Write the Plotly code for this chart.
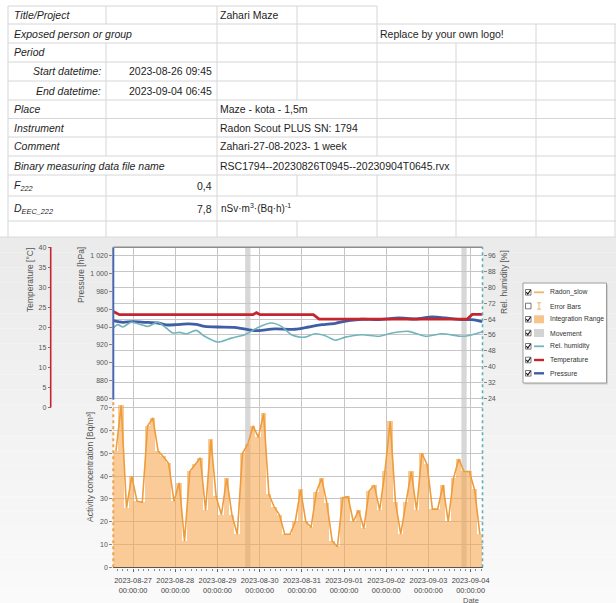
import pandas as pd
import plotly.graph_objects as go

W, H = 616, 603

# ---------------- measurement series ----------------
radon_start = "2023-08-26 12:45"      # start of the first 3 h integration interval
radon_step_hours = 3
radon_bq = [51, 71, 26, 40, 29, 28.5, 62, 65.5, 51, 48.5,
            45.5, 29, 37, 11.5, 42, 45, 48, 25, 56, 31,
            23, 39, 23, 14.5, 50, 54, 62, 57, 67.5, 32,
            26.5, 23, 14.5, 14.5, 20, 34, 20, 17.5, 33, 39,
            28, 11.5, 9, 30.5, 31, 20, 25, 17, 33.5, 36,
            25, 42, 64, 28.5, 14.5, 28.5, 42, 25, 50, 45,
            25.5, 25.5, 36, 20, 39, 47.5, 42, 42, 34, 14.5]

movement_from = ["2023-08-29 15:45", "2023-09-03 18:45"]
movement_to = ["2023-08-29 18:45", "2023-09-03 21:45"]

pressure_time = ["2023-08-26 12:45", "2023-08-26 18:08", "2023-08-26 23:50", "2023-08-27 06:30",
                 "2023-08-27 14:05", "2023-08-27 18:48", "2023-08-28 00:30", "2023-08-28 07:11",
                 "2023-08-28 11:55", "2023-08-28 16:42", "2023-08-29 00:17", "2023-08-29 09:48",
                 "2023-08-29 17:23", "2023-08-29 21:13", "2023-08-30 08:36", "2023-08-30 20:11",
                 "2023-08-31 03:46", "2023-08-31 11:24", "2023-08-31 19:00", "2023-09-01 02:35",
                 "2023-09-01 10:13", "2023-09-01 19:41", "2023-09-02 07:04", "2023-09-02 16:35",
                 "2023-09-03 02:07", "2023-09-03 09:42", "2023-09-03 19:13", "2023-09-04 00:55",
                 "2023-09-04 06:45"]
pressure_hpa = [947.1, 945.3, 946.0, 945.3,
                944.5, 942.3, 942.6, 943.4,
                943.0, 940.8, 940.0, 939.7,
                937.0, 935.9, 937.8, 937.5,
                940.0, 942.6, 944.2, 947.1,
                948.7, 948.2, 950.1, 949.0,
                951.2, 950.1, 948.2, 948.2,
                946.0]

humidity_time = ["2023-08-26 12:45", "2023-08-26 15:17", "2023-08-26 18:08", "2023-08-26 22:52",
                 "2023-08-27 04:34", "2023-08-27 08:23", "2023-08-27 14:05", "2023-08-27 18:48",
                 "2023-08-27 22:38", "2023-08-28 02:27", "2023-08-28 06:13", "2023-08-28 11:55",
                 "2023-08-28 16:42", "2023-08-29 00:17", "2023-08-29 07:52", "2023-08-29 15:30",
                 "2023-08-29 23:05", "2023-08-30 06:40", "2023-08-30 12:22", "2023-08-30 18:04",
                 "2023-08-30 22:52", "2023-08-31 01:53", "2023-08-31 07:35", "2023-08-31 13:17",
                 "2023-08-31 19:00", "2023-09-01 00:42", "2023-09-01 10:13", "2023-09-01 19:41",
                 "2023-09-02 03:18", "2023-09-02 12:46", "2023-09-02 22:18", "2023-09-03 07:49",
                 "2023-09-03 19:13", "2023-09-04 00:55", "2023-09-04 06:45"]
humidity_pct = [59.5, 61.2, 60.0, 62.4,
                61.2, 60.3, 62.4, 59.5,
                57.0, 57.3, 56.5, 58.3,
                55.3, 52.4, 54.4, 56.1,
                59.8, 62.0, 60.3, 56.1,
                54.9, 54.9, 56.6, 55.6,
                53.3, 54.9, 56.1, 55.3,
                57.0, 57.8, 55.3, 56.6,
                55.3, 56.1, 57.6]

temperature_time = ["2023-08-26 12:45", "2023-08-26 16:15", "2023-08-29 20:15", "2023-08-29 22:10",
                    "2023-08-30 00:15", "2023-08-31 06:35", "2023-08-31 09:50", "2023-09-03 22:05",
                    "2023-09-04 00:55", "2023-09-04 06:45"]
temperature_c = [24.0, 23.2, 23.2, 23.7,
                 23.2, 23.2, 22.1, 22.1,
                 23.25, 23.25]

# ---------------- axis ticks ----------------
date_ticks = pd.date_range("2023-08-27", "2023-09-04", freq="D")
activity_ticks = list(range(0, 71, 10))
pressure_ticks = list(range(860, 1021, 20))
humidity_ticks = list(range(24, 97, 8))
temperature_ticks = list(range(0, 41, 5))

# ---------------- report header text ----------------
title_project = "Zahari Maze"
logo_note = "Replace by your own logo!"
start_dt = "2023-08-26 09:45"
end_dt = "2023-09-04 06:45"
place = "Maze - kota - 1,5m"
instrument = "Radon Scout PLUS SN: 1794"
comment = "Zahari-27-08-2023- 1 week"
data_file = "RSC1794--20230826T0945--20230904T0645.rvx"
f222 = "0,4"
deec222 = "7,8"
deec_unit = "nSv·m<sup>3</sup>·(Bq·h)<sup>-1</sup>"

legend_names = ["Radon_slow", "Error Bars", "Integration Range", "Movement",
                "Rel. humidity", "Temperature", "Pressure"]
legend_checked = [True, False, True, True, True, True, True]

# ---------------- colours / fonts ----------------
C_RADON = "#ee9c3c"
C_BAR = "rgba(246,166,74,0.58)"
C_HUM = "#74b5bb"
C_PRESS = "#3f5ea6"
C_TEMP = "#c4262e"
C_GRID = "#c6c6c6"
FAMILY = "Liberation Sans, Arial, sans-serif"


def px(x):
    return x / W


def py(y):
    return 1 - y / H


# plot area in pixels
PL, PR, PT, PB = 113.3, 482.5, 247.3, 567.3
act_range = [0, (PB - PT) / 2.28]
press_range = [860 - (PB - 398.3) / 0.89125, 1020 + (255.7 - PT) / 0.89125]
hum_range = [24 - (PB - 398.3) / 1.98125, 96 + (255.7 - PT) / 1.98125]
temp_range = [-(PB - 407.3) / 4.0, 40.05]


def vpix(v, rng):
    return PB - (v - rng[0]) / (rng[1] - rng[0]) * (PB - PT)


interval = pd.Timedelta(hours=radon_step_hours)
bar_mid = pd.date_range(radon_start, periods=len(radon_bq), freq=f"{radon_step_hours}h") + interval / 2
x_range = [pd.Timestamp(radon_start), pd.Timestamp(radon_start) + interval * len(radon_bq)]

fig = go.Figure()
fig.add_trace(go.Bar(x=bar_mid, y=radon_bq, width=interval.total_seconds() * 1000,
                     marker=dict(color=C_BAR, line=dict(width=0)), name="Integration Range"))
fig.add_trace(go.Scatter(x=bar_mid, y=radon_bq, mode="lines", name="Radon_slow",
                         line=dict(color=C_RADON, width=1.6)))
fig.add_trace(go.Scatter(x=humidity_time, y=humidity_pct, mode="lines", name="Rel. humidity", yaxis="y3",
                         line=dict(color=C_HUM, width=1.6, shape="spline", smoothing=0.7)))
fig.add_trace(go.Scatter(x=pressure_time, y=pressure_hpa, mode="lines", name="Pressure", yaxis="y2",
                         line=dict(color=C_PRESS, width=2.8, shape="spline", smoothing=0.6)))
fig.add_trace(go.Scatter(x=temperature_time, y=temperature_c, mode="lines", name="Temperature", yaxis="y4",
                         line=dict(color=C_TEMP, width=2.8)))

shapes = []
annots = []


def hline(y, x0, x1, color, width=1, dash=None, layer="below"):
    shapes.append(dict(type="line", xref="paper", yref="paper", x0=px(x0), x1=px(x1), y0=py(y), y1=py(y),
                       line=dict(color=color, width=width, dash=dash), layer=layer))


def vline(x, y0, y1, color, width=1, dash=None, layer="below"):
    shapes.append(dict(type="line", xref="paper", yref="paper", x0=px(x), x1=px(x), y0=py(y0), y1=py(y1),
                       line=dict(color=color, width=width, dash=dash), layer=layer))


def rect(x0, y0, x1, y1, fill, line_color=None, lw=0, layer="below"):
    shapes.append(dict(type="rect", xref="paper", yref="paper", x0=px(x0), x1=px(x1), y0=py(y0), y1=py(y1),
                       fillcolor=fill, line=dict(color=line_color or fill, width=lw), layer=layer))


def text(s, x, y, anchor="left", size=10.5, color="#1e1e1e", angle=0):
    annots.append(dict(text=s, xref="paper", yref="paper", x=px(x), y=py(y), xanchor=anchor,
                       yanchor="middle", showarrow=False, textangle=angle,
                       font=dict(family=FAMILY, size=size, color=color)))


# ---------------- spreadsheet header ----------------
G = "#d6d6d6"
row_edges = [6, 24, 43, 62, 81, 100, 118.5, 137, 156, 175, 196, 221, 237]
col_edges = [8, 106, 217, 297, 377, 456, 536, 615]
hline(row_edges[0], 8, 377, G)
for ye in row_edges[1:-1]:
    hline(ye, 8, 616, G)
# vertical cell borders that are not covered by overflowing text
hidden = {0: {456, 536, 615}, 1: {106, 456}, 5: {297}, 6: {297}, 7: {297},
          8: {106, 297, 377}, 10: {297}}
for r in range(len(row_edges) - 1):
    for c in col_edges:
        if c in hidden.get(r, set()):
            continue
        vline(c, row_edges[r], row_edges[r + 1], G)

text("<i>Title/Project</i>", 12, 15)
text(title_project, 218, 15)
text("<i>Exposed person or group</i>", 12, 33.5)
text(logo_note, 378, 33.5)
text("<i>Period</i>", 12, 52.5)
text("<i>Start datetime:</i>", 103, 71.5, anchor="right")
text(start_dt, 214, 71.5, anchor="right")
text("<i>End datetime:</i>", 103, 90.5, anchor="right")
text(end_dt, 214, 90.5, anchor="right")
text("<i>Place</i>", 12, 109)
text(place, 218, 109)
text("<i>Instrument</i>", 12, 128)
text(instrument, 218, 128)
text("<i>Comment</i>", 12, 146.5)
text(comment, 218, 146.5)
text("<i>Binary measuring data file name</i>", 12, 165.5)
text(data_file, 218, 165.5)
text("<i>F</i><sub><i>222</i></sub>", 12, 185.5)
text(f222, 214, 185.5, anchor="right")
text("<i>D</i><sub><i>EEC_222</i></sub>", 12, 209)
text(deec222, 214, 209, anchor="right")
text(deec_unit, 219, 208, size=10)

# ---------------- chart panel background ----------------
n_strips = 24
top_bg = 237
for i in range(n_strips):
    y0 = top_bg + i * (H - top_bg) / n_strips
    y1 = top_bg + (i + 1) * (H - top_bg) / n_strips
    g = int(235 + (250 - 235) * i / (n_strips - 1))
    rect(0, y0, W, y1, f"rgb({g},{g},{g})")
hline(top_bg, 0, W, "#dadada")
rect(PL, PT, PR, PB, "white")

# movement periods
for a, b in zip(movement_from, movement_to):
    shapes.append(dict(type="rect", xref="x", yref="paper", x0=a, x1=b, y0=py(PB), y1=py(PT),
                       fillcolor="rgba(150,150,150,0.38)", line=dict(width=0), layer="between"))

# axis lines drawn only over their own value span
vline(50.7, vpix(0, temp_range), vpix(40, temp_range) - 0.5, C_TEMP, 1.6, layer="above")
vline(PL, vpix(858.5, press_range), PT, "#4a68ad", 2, layer="above")
vline(PL, PB, vpix(858.5, press_range), "#f0a24a", 2, dash="dot", layer="above")
vline(PR, PB, PT, "#5fb0b4", 1.6, dash="dot", layer="above")
hline(PT, PL, PR, "#8c8c8c", 1.4, layer="above")

# axis titles
text("Temperature [°C]", 30, 280, anchor="center", size=8.5, color="#555", angle=-90)
text("Pressure [hPa]", 81, 275, anchor="center", size=8.5, color="#555", angle=-90)
text("Activity concentration [Bq/m³]", 90, 467, anchor="center", size=8.5, color="#555", angle=-90)
text("Rel. humidity [%]", 504, 282, anchor="center", size=8.5, color="#555", angle=-90)
text("Date", 471, 600, anchor="center", size=7.5, color="#555")

# ---------------- legend panel ----------------
rect(524.5, 284.5, 608, 384.5, "#d2d2d2")
rect(523, 283, 606.5, 383, "white", "#9c9c9c", 1)
item_y = [292.3, 306, 319.3, 333, 346.3, 360, 373.3]
for name, checked, cy in zip(legend_names, legend_checked, item_y):
    rect(525.5, cy - 2.8, 531, cy + 2.8, "white", "#555", 0.8, layer="above")
    if checked:
        shapes.append(dict(type="path", xref="paper", yref="paper", layer="above",
                           path=f"M {px(526.3)},{py(cy - 0.2)} L {px(527.8)},{py(cy + 1.8)} L {px(530.6)},{py(cy - 2.3)}",
                           line=dict(color="#111", width=1.1)))
    if name == "Radon_slow":
        hline(cy, 534, 544, "#f2b466", 1.8, layer="above")
    elif name == "Error Bars":
        vline(539, cy - 3.2, cy + 3.2, "#f2b466", 1, layer="above")
        hline(cy - 3.2, 537, 541, "#f2b466", 1, layer="above")
        hline(cy + 3.2, 537, 541, "#f2b466", 1, layer="above")
    elif name == "Integration Range":
        rect(534, cy - 4, 544, cy + 4, "#f6c48c", layer="above")
    elif name == "Movement":
        rect(534, cy - 4, 544, cy + 4, "#d3d3d3", layer="above")
    elif name == "Rel. humidity":
        hline(cy, 534, 544, C_HUM, 1.8, layer="above")
    elif name == "Temperature":
        hline(cy, 534, 544, C_TEMP, 2.4, layer="above")
    else:
        hline(cy, 534, 544, C_PRESS, 2.4, layer="above")
    text(name, 547.5, cy, size=6.8, color="#333")

TICKF = dict(family=FAMILY, size=7, color="#555")
fig.update_layout(
    template="none",
    width=W, height=H,
    margin=dict(l=0, r=0, t=0, b=0),
    paper_bgcolor="white",
    plot_bgcolor="rgba(0,0,0,0)",
    showlegend=False,
    bargap=0,
    font=dict(family=FAMILY, size=7, color="#555"),
    xaxis=dict(domain=[px(PL), px(PR)], type="date", range=x_range,
               tickmode="array", tickvals=date_ticks, tickangle=0,
               ticktext=[d.strftime("%Y-%m-%d") + "<br>" + d.strftime("%H:%M:%S") for d in date_ticks],
               tickfont=dict(family=FAMILY, size=7.4, color="#444"), ticklabelstandoff=3,
               ticks="outside", ticklen=3, tickcolor="#666", showline=True, linecolor="#555", linewidth=1.4,
               showgrid=True, gridcolor=C_GRID, gridwidth=1.2, zeroline=False, automargin=False,
               minor=dict(ticks="outside", ticklen=2, tickcolor="#888", dtick=radon_step_hours * 3600 * 1000,
                          tick0="2023-08-27", showgrid=False)),
    yaxis=dict(domain=[py(PB), py(PT)], range=act_range, tickmode="array", tickvals=activity_ticks,
               tickfont=TICKF, ticks="outside", ticklen=3, tickcolor="#888", showline=False,
               showgrid=True, gridcolor=C_GRID, gridwidth=1.2, zeroline=False, automargin=False),
    yaxis2=dict(overlaying="y", anchor="x", side="left", range=press_range, tickmode="array",
                tickvals=pressure_ticks,
                ticktext=[f"{v // 1000} {v % 1000:03d}" if v >= 1000 else str(v) for v in pressure_ticks],
                tickfont=TICKF, ticks="outside", ticklen=3, tickcolor="#888", showline=False,
                showgrid=False, zeroline=False, automargin=False),
    yaxis3=dict(overlaying="y", anchor="x", side="right", range=hum_range, tickmode="array",
                tickvals=humidity_ticks, tickfont=TICKF, ticks="outside", ticklen=3, tickcolor="#888",
                showline=False, showgrid=True, gridcolor=C_GRID, gridwidth=1.2, zeroline=False,
                automargin=False),
    yaxis4=dict(overlaying="y", anchor="free", position=px(50.7), side="left", range=temp_range,
                tickmode="array", tickvals=temperature_ticks, tickfont=TICKF, ticks="outside", ticklen=3,
                tickcolor="#777", showline=False, showgrid=False, zeroline=False, automargin=False,
                minor=dict(ticks="outside", ticklen=1, tickwidth=1, tickcolor="#d86a6a",
                           tickvals=list(range(0, 41)))),
    shapes=shapes,
    annotations=annots,
)

fig.write_html("out.html")
